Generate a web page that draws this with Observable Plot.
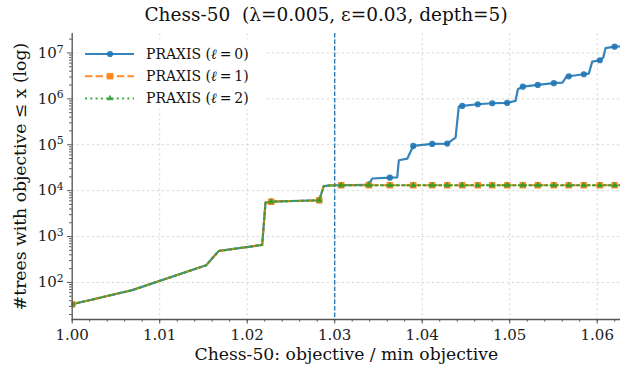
<!DOCTYPE html>
<html>
<head>
<meta charset="utf-8">
<script src="https://cdn.jsdelivr.net/npm/d3@7"></script>
<script src="https://cdn.jsdelivr.net/npm/@observablehq/plot@0.6"></script>
<style>
  body { margin: 0; background: #fff; }
  #wrap { position: relative; width: 620px; height: 370px; font-family: "DejaVu Serif", serif; overflow: hidden; }
  #title { position: absolute; left: 71px; width: 510px; top: 0; line-height: 30px; text-align: center; font-size: 18.5px; color: #111; white-space: pre; }
  #chart { position: absolute; left: 0; top: 26px; }
  #legend { position: absolute; left: 0; top: 0; pointer-events: none; }
</style>
</head>
<body>
<div id="wrap">
  <div id="title">Chess-50  (λ=0.005, ε=0.03, depth=5)</div>
  <div id="chart"></div>
  <svg id="legend" width="620" height="130"></svg>
</div>
<script>
// Cumulative count of trees whose objective is within a ratio of the optimum.
// Up to ~1.0295 all three PRAXIS levels share the same curve.
const sharedRatio = [1.00000, 1.00686, 1.01531, 1.01675, 1.02171, 1.02209, 1.02274, 1.02823, 1.02875, 1.02952];
const sharedCount = [33.5, 68, 237, 486, 656, 5480, 5750, 6170, 12600, 13000];

// ℓ = 0 keeps growing past the ε bound
const tail0Ratio = [1.03074, 1.03363, 1.03390, 1.03429, 1.03630, 1.03714, 1.03733, 1.03829, 1.03897, 1.04114,
                    1.04286, 1.04381, 1.04418, 1.04457, 1.04635, 1.04800, 1.04971, 1.05066, 1.05093, 1.05150,
                    1.05321, 1.05504, 1.05603, 1.05649, 1.05675, 1.05847, 1.05904, 1.05943, 1.06030, 1.06069,
                    1.06095, 1.06198, 1.06266];
const tail0Count = [13100, 13300, 13700, 18400, 19200, 19500, 45900, 49700, 94200, 104000,
                    106000, 143000, 680000, 700000, 762000, 801000, 814000, 900000, 1620000, 1840000,
                    2010000, 2190000, 2260000, 3050000, 3100000, 3430000, 3540000, 6450000, 6930000, 7900000,
                    12700000, 13700000, 13800000];

// ℓ = 1 and ℓ = 2 stay flat after the bound
const tail12Ratio = [1.03074, 1.03390, 1.03630, 1.03897, 1.04114, 1.04286, 1.04457, 1.04635, 1.04800, 1.04971,
                     1.05150, 1.05321, 1.05504, 1.05675, 1.05847, 1.06030, 1.06198, 1.06266];
const tail12Count = [13100, 13100, 13100, 13100, 13100, 13100, 13100, 13100, 13100, 13100,
                     13100, 13100, 13100, 13100, 13100, 13100, 13100, 13100];

// ratios at which markers are drawn
const markerRatio = [1.00000, 1.02274, 1.02823, 1.03074, 1.03390, 1.03630, 1.03897, 1.04114, 1.04286, 1.04457,
                     1.04635, 1.04800, 1.04971, 1.05150, 1.05321, 1.05504, 1.05675, 1.05847, 1.06030, 1.06198];

const seriesNames = ["PRAXIS (ℓ=0)", "PRAXIS (ℓ=1)", "PRAXIS (ℓ=2)"];
const epsilonBound = 1.03;

const xTicks = [1.00, 1.01, 1.02, 1.03, 1.04, 1.05, 1.06];
const yTicks = [1e2, 1e3, 1e4, 1e5, 1e6, 1e7];
const xDomain = [1.0, 1.06266];
const yDomain = [15.6, 2.65e7];

const xMinor = d3.range(0, 32).map(i => +(1 + i * 0.002).toFixed(3)).filter(v => v <= xDomain[1]);
const yMinor = [];
for (let k = 1; k <= 7; k++) for (let m = 2; m <= 9; m++) {
  const v = m * 10 ** k;
  if (v >= yDomain[0] && v <= yDomain[1]) yMinor.push(v);
}

function build(name, xs, ns) {
  return xs.map((r, i) => ({series: name, ratio: r, count: ns[i]}));
}
const shared = (name) => build(name, sharedRatio, sharedCount);
const s0 = shared(seriesNames[0]).concat(build(seriesNames[0], tail0Ratio, tail0Count));
const s1 = shared(seriesNames[1]).concat(build(seriesNames[1], tail12Ratio, tail12Count));
const s2 = shared(seriesNames[2]).concat(build(seriesNames[2], tail12Ratio, tail12Count));
const markSet = new Set(markerRatio);
const marked = (rows) => rows.filter(d => markSet.has(d.ratio));

const colors = {blue: "#1f77b4", orange: "#ff7f0e", green: "#2ca02c"};
const spine = "#555";

const chart = Plot.plot({
  width: 620,
  height: 344,
  marginLeft: 71.7,
  marginRight: 0,
  marginTop: 7,
  marginBottom: 51,
  style: {fontFamily: "DejaVu Serif", fontSize: "15px", background: "transparent", color: "#222", overflow: "visible"},
  x: {domain: xDomain, label: null},
  y: {type: "log", domain: yDomain, label: null},
  marks: [
    Plot.gridX(xTicks, {stroke: "#bbbbbb", strokeOpacity: 0.55, strokeDasharray: "2.5,2.5"}),
    Plot.gridY(yTicks, {stroke: "#bbbbbb", strokeOpacity: 0.55, strokeDasharray: "2.5,2.5"}),
    Plot.ruleX([epsilonBound], {stroke: colors.blue, strokeWidth: 1.3, strokeDasharray: "4.5,2"}),

    Plot.line(s0, {x: "ratio", y: "count", stroke: colors.blue, strokeWidth: 2.2, strokeOpacity: 0.9, clip: true}),
    Plot.dot(marked(s0), {x: "ratio", y: "count", r: 3.1, fill: colors.blue, fillOpacity: 0.9, clip: true}),
    Plot.line(s1, {x: "ratio", y: "count", stroke: colors.orange, strokeWidth: 2, strokeOpacity: 0.9, strokeDasharray: "7.4,3.2", clip: true}),
    Plot.dot(marked(s1), {x: "ratio", y: "count", symbol: "square", r: 3.7, fill: colors.orange, fillOpacity: 0.9, clip: true}),
    Plot.line(s2, {x: "ratio", y: "count", stroke: colors.green, strokeWidth: 2, strokeOpacity: 0.9, strokeDasharray: "2,3.3", clip: true}),
    Plot.dot(marked(s2), {x: "ratio", y: "count", symbol: "triangle", r: 2.4, fill: colors.green, fillOpacity: 0.9, clip: true}),

    Plot.ruleX([xDomain[0]], {stroke: spine, strokeWidth: 1.3}),
    Plot.ruleY([yDomain[0]], {stroke: spine, strokeWidth: 1.3}),

    Plot.axisX(xMinor, {tickSize: 2.6, stroke: spine, tickFormat: () => "", label: null}),
    Plot.axisX(xTicks, {tickSize: 4.6, tickPadding: 5.5, stroke: spine, tickFormat: d3.format(".2f"), label: null}),
    Plot.axisY(yMinor, {tickSize: 2.6, stroke: spine, tickFormat: () => "", label: null}),
    Plot.axisY(yTicks, {tickSize: 4.6, tickPadding: 4, stroke: spine, tickFormat: d => "10^" + Math.round(Math.log10(d)), label: null}),

    Plot.text(["Chess-50: objective / min objective"], {frameAnchor: "bottom", dy: 40, fontSize: 17.2, fill: "#111"}),
    Plot.text(["#trees with objective ≤ x (log)"], {frameAnchor: "left", textAnchor: "middle", rotate: -90, dx: -52, fontSize: 17.2, fill: "#111"})
  ]
});

// render exponents as raised superscripts
d3.select(chart).selectAll('g[aria-label="y-axis tick label"] text').each(function () {
  const t = d3.select(this);
  const s = t.text();
  if (!s.includes("^")) return;
  const [base, exp] = s.split("^");
  t.text(null);
  t.append("tspan").text(base);
  t.append("tspan").attr("dy", "-0.48em").attr("font-size", "0.72em").text(exp);
});

document.getElementById("chart").appendChild(chart);

// legend
const lg = d3.select("#legend");
lg.append("rect").attr("x", 78).attr("y", 39).attr("width", 186).attr("height", 70)
  .attr("rx", 3).attr("fill", "white").attr("fill-opacity", 0.85);
const legendRows = [
  {color: colors.blue, dash: null, sym: d3.symbolCircle, size: Math.PI * 3.1 * 3.1, lvl: "0"},
  {color: colors.orange, dash: "7.4,3.2", sym: d3.symbolSquare, size: Math.PI * 3.7 * 3.7, lvl: "1"},
  {color: colors.green, dash: "2,3.3", sym: d3.symbolTriangle, size: Math.PI * 2.4 * 2.4, lvl: "2"}
];
legendRows.forEach((row, i) => {
  const y = 54 + i * 22.2;
  lg.append("line").attr("x1", 85).attr("x2", 134).attr("y1", y).attr("y2", y)
    .attr("stroke", row.color).attr("stroke-width", 2).attr("stroke-opacity", 0.9)
    .attr("stroke-dasharray", row.dash);
  lg.append("path").attr("d", d3.symbol(row.sym, row.size)()).attr("transform", `translate(110,${y})`)
    .attr("fill", row.color).attr("fill-opacity", 0.9);
  const tx = lg.append("text").attr("x", 146).attr("y", y).attr("dy", "0.35em")
    .attr("font-family", "DejaVu Serif").attr("font-size", 14).attr("fill", "#111");
  tx.append("tspan").text("PRAXIS (");
  tx.append("tspan").attr("font-style", "italic").text("ℓ");
  tx.append("tspan").text("\u2009=\u2009" + row.lvl + ")");
});
</script>
</body>
</html>
